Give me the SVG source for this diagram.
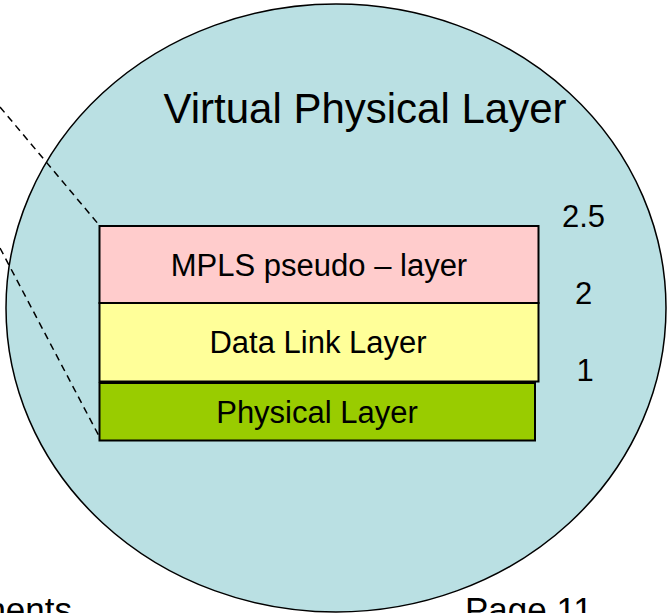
<svg xmlns="http://www.w3.org/2000/svg" width="669" height="613" viewBox="0 0 669 613">
  <style>
    text { font-family: "Liberation Sans", Arial, sans-serif; fill: #000; }
    .layer { stroke: #000; stroke-width: 2; }
    .lbl { font-size: 31px; text-anchor: middle; }
    .num { font-size: 31px; text-anchor: middle; }
    .foot { font-size: 35px; }
    .dash { fill: none; stroke: #000; stroke-width: 1.5; stroke-dasharray: 7 5; }
  </style>
  <rect width="669" height="613" fill="#ffffff"/>

  <!-- outer virtual layer -->
  <g id="virtual-physical-layer">
    <ellipse cx="336" cy="308" rx="330" ry="304" fill="#BAE0E3" stroke="#000" stroke-width="1.5"/>
    <text x="365" y="123" font-size="42" text-anchor="middle">Virtual Physical Layer</text>
  </g>

  <!-- zoom lines from outside into the stack -->
  <g id="connectors">
    <line class="dash" x1="0" y1="107" x2="99.5" y2="225.5"/>
    <line class="dash" x1="0" y1="248" x2="100" y2="438"/>
  </g>

  <!-- layer stack -->
  <g id="mpls-layer">
    <rect class="layer" x="99.5" y="226" width="439" height="77" fill="#FFCCCC"/>
    <text class="lbl" x="319" y="276">MPLS pseudo – layer</text>
  </g>
  <g id="data-link-layer">
    <rect class="layer" x="99.5" y="303" width="439" height="78.5" fill="#FFFF99"/>
    <text class="lbl" x="318" y="353">Data Link Layer</text>
  </g>
  <g id="physical-layer">
    <rect class="layer" x="99.5" y="383" width="435.5" height="57.5" fill="#99CC00"/>
    <text class="lbl" x="317" y="423">Physical Layer</text>
  </g>

  <!-- layer numbers -->
  <g id="layer-numbers">
    <text class="num" x="583.5" y="227">2.5</text>
    <text class="num" x="583.5" y="304">2</text>
    <text class="num" x="585" y="381">1</text>
  </g>

  <!-- footer -->
  <g id="footer">
    <text class="foot" x="72" y="622" text-anchor="end">nents</text>
    <text class="foot" x="465" y="622">Page 11</text>
  </g>
</svg>
